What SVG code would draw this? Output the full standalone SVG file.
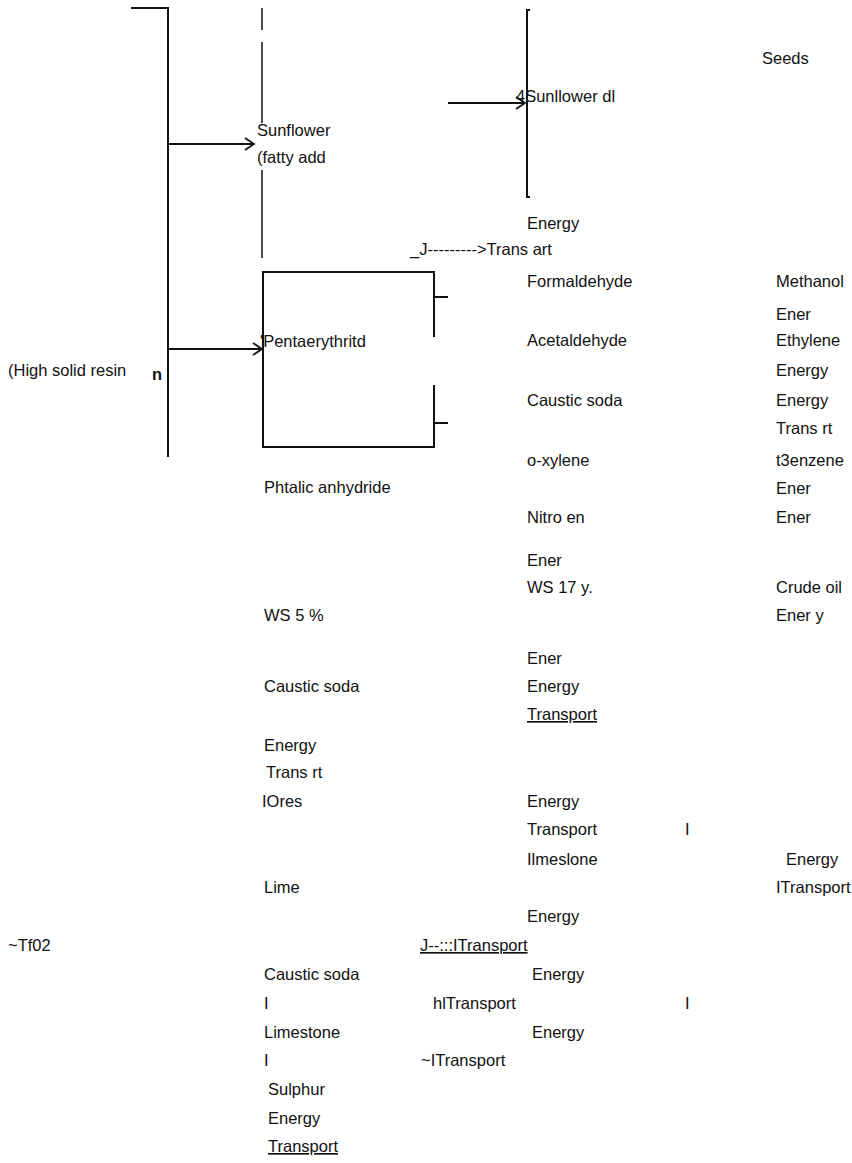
<svg xmlns="http://www.w3.org/2000/svg" width="852" height="1163" viewBox="0 0 852 1163">
<style>
text{font-family:"Liberation Sans",Arial,sans-serif;font-size:16.5px;fill:#111}
.u{text-decoration:underline}
.ln{stroke:#111;stroke-width:2;fill:none}
.th{stroke:#111;stroke-width:1.5;fill:none}
</style>
<defs>
<marker id="chev" markerWidth="12" markerHeight="14" refX="10" refY="7" orient="auto" markerUnits="userSpaceOnUse">
<path d="M1,1 L10,7 L1,13" fill="none" stroke="#111" stroke-width="1.8"/>
</marker>
</defs>
<rect width="852" height="1163" fill="#fff"/>
<g id="connectors">
<path class="ln" d="M131,8 H168 V457"/>
<path class="ln" d="M168,144 H254" marker-end="url(#chev)"/>
<path class="ln" d="M168,349 H262" marker-end="url(#chev)"/>
<path class="ln" d="M448,103 H525" marker-end="url(#chev)"/>
<path class="th" d="M262,8 V30 M262,42 V123 M262,170 V258"/>
<path class="ln" d="M530,10 H527 V197 H530"/>
</g>
<g id="node-pentaerythritol">
<path class="ln" d="M434,337 V272 H263 V447 H434 V385"/>
<path class="ln" d="M434,297 H448 M434,423 H448"/>
<text x="260" y="347">'Pentaerythritd</text>
</g>
<g id="node-sunflower"><text x="257" y="136">Sunflower</text><text x="257" y="163">(fatty add</text></g>
<g id="node-sunflower-oil"><text x="516" y="102">4Sunllower dl</text></g>
<g id="node-resin"><text x="8" y="376">(High solid resin</text><text x="152" y="380" style="font-weight:bold">n</text></g>
<g id="col-c">
<text x="762" y="64">Seeds</text>
<text x="776" y="287">Methanol</text>
<text x="776" y="320">Ener</text>
<text x="776" y="346">Ethylene</text>
<text x="776" y="376">Energy</text>
<text x="776" y="406">Energy</text>
<text x="776" y="434">Trans rt</text>
<text x="776" y="466">t3enzene</text>
<text x="776" y="494">Ener</text>
<text x="776" y="523">Ener</text>
<text x="776" y="593">Crude oil</text>
<text x="776" y="621">Ener y</text>
<text x="786" y="865">Energy</text>
<text x="776" y="893">ITransport</text>
<text x="685" y="835">I</text>
<text x="685" y="1009">I</text>
</g>
<g id="col-b">
<text x="527" y="229">Energy</text>
<text x="410" y="255">_J---------&gt;Trans art</text>
<text x="527" y="287">Formaldehyde</text>
<text x="527" y="346">Acetaldehyde</text>
<text x="527" y="406">Caustic soda</text>
<text x="527" y="466">o-xylene</text>
<text x="527" y="523">Nitro en</text>
<text x="527" y="566">Ener</text>
<text x="527" y="593">WS 17 y.</text>
<text x="527" y="664">Ener</text>
<text x="527" y="692">Energy</text>
<text x="527" y="720" class="u">Transport</text>
<text x="527" y="807">Energy</text>
<text x="527" y="835">Transport</text>
<text x="527" y="865">Ilmeslone</text>
<text x="527" y="922">Energy</text>
<text x="420" y="951" class="u">J--:::ITransport</text>
<text x="532" y="980">Energy</text>
<text x="433" y="1009">hlTransport</text>
<text x="532" y="1038">Energy</text>
<text x="421" y="1066">~ITransport</text>
</g>
<g id="col-a">
<text x="264" y="493">Phtalic anhydride</text>
<text x="264" y="621">WS 5 %</text>
<text x="264" y="692">Caustic soda</text>
<text x="264" y="751">Energy</text>
<text x="266" y="778">Trans rt</text>
<text x="262" y="807">IOres</text>
<text x="264" y="893">Lime</text>
<text x="8" y="951">~Tf02</text>
<text x="264" y="980">Caustic soda</text>
<text x="264" y="1009">I</text>
<text x="264" y="1038">Limestone</text>
<text x="264" y="1066">I</text>
<text x="268" y="1095">Sulphur</text>
<text x="268" y="1124">Energy</text>
<text x="268" y="1152" class="u">Transport</text>
</g>
</svg>
